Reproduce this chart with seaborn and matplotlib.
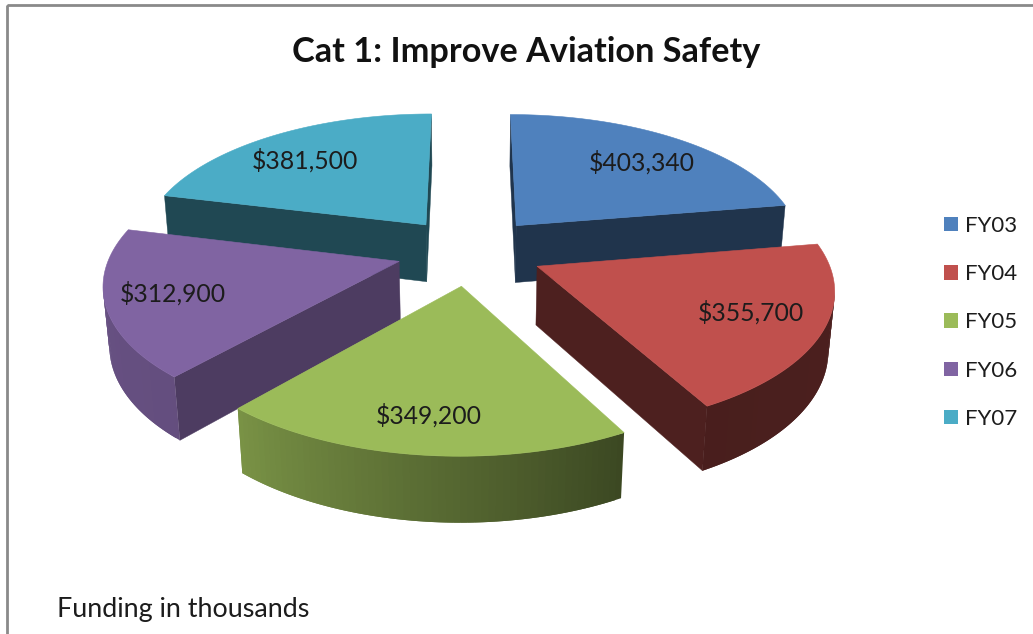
import numpy as np
import matplotlib
matplotlib.use("Agg")
import matplotlib.pyplot as plt
from matplotlib.patches import Polygon, Patch, Rectangle
import seaborn as sns

# ---- data ----
years = ["FY03", "FY04", "FY05", "FY06", "FY07"]
funding = [403340, 355700, 349200, 312900, 381500]
title = "Cat 1: Improve Aviation Safety"
note = "Funding in thousands"

# ---- style ----
sns.set_theme(style="white")
plt.rcParams["font.family"] = ["Lato", "DejaVu Sans"]
palette = sns.color_palette(["#4F81BD", "#C0504D", "#9BBB59", "#8064A2", "#4BACC6"])
text_color = "#1c1c1c"

# projection parameters
CX, CY = 470, 251
SX, SY, DEPTH = 288, 134, 59
PERSP, PERSP_Z = 0.145, 0.017
EXPLODE = 0.255
LABEL_R = 0.76
label_nudge = [(2, 5), (0, -3), (-3, 6), (-5, 0), (-3, 5)]
wall_factor = [0.40, 0.40, 0.40, 0.60, 0.42]


def project(x, y, z):
    w = 1 + PERSP * y - PERSP_Z * z
    return CX + SX * x / w, CY - (SY * y + DEPTH * z) / w


def shade(color, f):
    return tuple(np.clip(np.array(color) * f, 0, 1))


def rim_factor(theta):
    return np.interp(theta, [80, 151, 221, 284, 360], [0.40, 0.38, 0.78, 0.82, 0.6])


fig = plt.figure(figsize=(10.33, 6.34), dpi=100, facecolor="white")
ax = fig.add_axes([0, 0, 1, 1])
ax.set_xlim(0, 1033)
ax.set_ylim(634, 0)
ax.axis("off")

ax.add_patch(Rectangle((7, 5), 1200, 800, fill=False, ec="#8a8a8a", lw=2.0, zorder=0))

vals = np.asarray(funding, float)
edges = np.concatenate([[0], np.cumsum(vals)]) / vals.sum() * 360
cam_y = -1 / PERSP


def add_face(p0, p1, color, z, lw=0.3):
    """Vertical face between two ground points p0, p1 (x, y)."""
    pts = [project(*p0, 0), project(*p1, 0), project(*p1, -1), project(*p0, -1)]
    ax.add_patch(Polygon(pts, closed=True, fc=color, ec=color if lw else "none", lw=lw, zorder=z))


def faces_camera(p, n):
    return n[0] * p[0] + n[1] * (p[1] - cam_y) < 0


# painter's order: farthest wedge (by bisector depth) first
mids = (edges[:-1] + edges[1:]) / 2
order = sorted(range(len(vals)), key=lambda i: -np.cos(np.radians(mids[i])))

for rank, i in enumerate(order):
    a0, a1 = edges[i], edges[i + 1]
    b = np.radians(mids[i])
    ox, oy = EXPLODE * np.sin(b), EXPLODE * np.cos(b)
    base_z = 2 + rank * 3
    col = palette[i]
    th = np.linspace(a0, a1, 60)
    rx = ox + np.sin(np.radians(th))
    ry = oy + np.cos(np.radians(th))
    apex = (ox, oy)

    # radial walls
    for ang, sign, p in ((a0, -1, (rx[0], ry[0])), (a1, 1, (rx[-1], ry[-1]))):
        r = np.radians(ang)
        n = (sign * np.cos(r), -sign * np.sin(r))
        if faces_camera(apex, n):
            add_face(apex, p, shade(col, wall_factor[i]), base_z)
    # curved rim: each strip overlaps the next one so no seams show
    for j in range(len(th) - 1):
        tm = np.radians((th[j] + th[j + 1]) / 2)
        p0 = (rx[j], ry[j])
        k = min(j + 2, len(th) - 1)
        p1 = (rx[k], ry[k])
        if faces_camera(p0, (np.sin(tm), np.cos(tm))):
            add_face(p0, p1, shade(col, rim_factor(np.degrees(tm))), base_z + 1, lw=0)
    # top face
    top = [project(ox, oy, 0)] + [project(x, y, 0) for x, y in zip(rx, ry)]
    ax.add_patch(Polygon(top, closed=True, fc=col, ec=col, lw=0.4, zorder=base_z + 2))
    # value label
    lx, ly = project(ox + LABEL_R * np.sin(b), oy + LABEL_R * np.cos(b), 0)
    ax.text(lx + label_nudge[i][0], ly + label_nudge[i][1], f"${funding[i]:,}",
            ha="center", va="center", fontsize=17.8, color=text_color, zorder=40)

ax.text(526, 52, title, ha="center", va="center", fontsize=24.7, fontweight="bold", color="#111111")
ax.text(57, 609, note, ha="left", va="center", fontsize=19.4, color=text_color)

handles = [Patch(fc=c, ec="none", label=y) for c, y in zip(palette, years)]
ax.legend(handles=handles, loc="upper left", bbox_to_anchor=(944 / 1033, 1 - 216 / 634),
          frameon=False, fontsize=16, handlelength=0.63, handleheight=0.63,
          handletextpad=0.32, labelspacing=1.27, borderpad=0, borderaxespad=0,
          labelcolor=text_color)

fig.savefig("out.png", dpi=100, facecolor="white")
